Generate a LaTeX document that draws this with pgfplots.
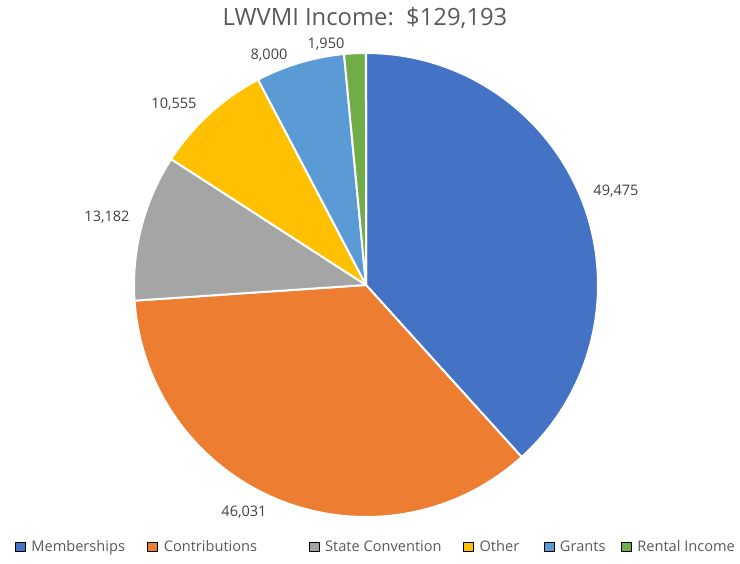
\documentclass[border=0pt]{standalone}
\usepackage{pgfplots}
\pgfplotsset{compat=1.18}
\usepackage{pgfplotstable}
\usepackage{fontspec}
\setmainfont{Open Sans}
\definecolor{cMemb}{HTML}{4472C4}
\definecolor{cContr}{HTML}{ED7D31}
\definecolor{cState}{HTML}{A5A5A5}
\definecolor{cOther}{HTML}{FFC000}
\definecolor{cGrants}{HTML}{5B9BD5}
\definecolor{cRental}{HTML}{70AD47}
\definecolor{cTitle}{HTML}{595959}
\definecolor{cLabel}{HTML}{404040}
\pgfplotstableread[col sep=comma]{
name,value,col,lx,ly
Memberships,49475,cMemb,616,373
Contributions,46031,cContr,244,52
State Convention,13182,cState,107,347
Other,10555,cOther,174,460
Grants,8000,cGrants,269,509
Rental Income,1950,cRental,326,520
}\incometable
\begin{document}
\begin{tikzpicture}
\begin{axis}[
  x=1pt, y=1pt, xmin=0, xmax=740, ymin=0, ymax=564,
  hide axis, clip=false,
  legend columns=6,
  legend image code/.code={\fill[#1] (0pt,-4.5pt) rectangle (10pt,4.5pt);},
  legend style={draw=none, fill=none, inner sep=0pt, outer sep=0pt,
    at={(axis cs:15,17)}, anchor=west,
    nodes={inner sep=0pt, font=\fontsize{14.6}{18}\selectfont, text=cTitle},
    column sep=0pt,
    /tikz/every odd column/.append style={column sep=6pt}},
]
\path (axis cs:0,0) rectangle (axis cs:740,564);
\def\tot{0}
\pgfplotsforeachungrouped \i in {0,...,5}{%
  \pgfplotstablegetelem{\i}{value}\of\incometable
  \edef\tot{\fpeval{\tot+\pgfplotsretval}}%
}
\def\startang{90}
\pgfplotsforeachungrouped \i in {0,...,5}{%
  \pgfplotstablegetelem{\i}{value}\of\incometable
  \edef\endang{\fpeval{round(\startang-360*\pgfplotsretval/\tot,4)}}%
  \pgfplotstablegetelem{\i}{col}\of\incometable
  \let\slicecol\pgfplotsretval
  \edef\px{\fpeval{round(366+232*cosd(\startang),3)}}%
  \edef\py{\fpeval{round(279+232*sind(\startang),3)}}%
  \edef\temp{\noexpand\fill[\slicecol,draw=white,line width=2pt,line join=round] (axis cs:366,279) -- (axis cs:\px,\py) arc[start angle=\startang,end angle=\endang,radius=232pt] -- cycle;}%
  \temp
  \let\startang\endang
}
\pgfplotsforeachungrouped \i in {0,...,5}{%
  \pgfplotstablegetelem{\i}{value}\of\incometable
  \edef\val{\pgfplotsretval}%
  \pgfplotstablegetelem{\i}{lx}\of\incometable
  \edef\lx{\pgfplotsretval}%
  \pgfplotstablegetelem{\i}{ly}\of\incometable
  \edef\ly{\pgfplotsretval}%
  \edef\temp{\noexpand\node[text=cLabel,font=\noexpand\fontsize{14.5}{17}\noexpand\selectfont] at (axis cs:\lx,\ly) {\noexpand\pgfmathprintnumber[1000 sep={,},assume math mode=true]{\val}};}%
  \temp
}
\node[text=cTitle,font=\fontsize{23.8}{28}\selectfont] at (axis cs:365,546) {LWVMI Income:\ \ \$129,193};
\addlegendimage{fill=cMemb}
\addlegendentry{\makebox[116pt][l]{Memberships}}
\addlegendimage{fill=cContr}
\addlegendentry{\makebox[145pt][l]{Contributions}}
\addlegendimage{fill=cState}
\addlegendentry{\makebox[138pt][l]{State Convention}}
\addlegendimage{fill=cOther}
\addlegendentry{\makebox[64pt][l]{Other}}
\addlegendimage{fill=cGrants}
\addlegendentry{\makebox[61pt][l]{Grants}}
\addlegendimage{fill=cRental}
\addlegendentry{\makebox[100pt][l]{Rental Income}}
\end{axis}
\end{tikzpicture}
\end{document}
